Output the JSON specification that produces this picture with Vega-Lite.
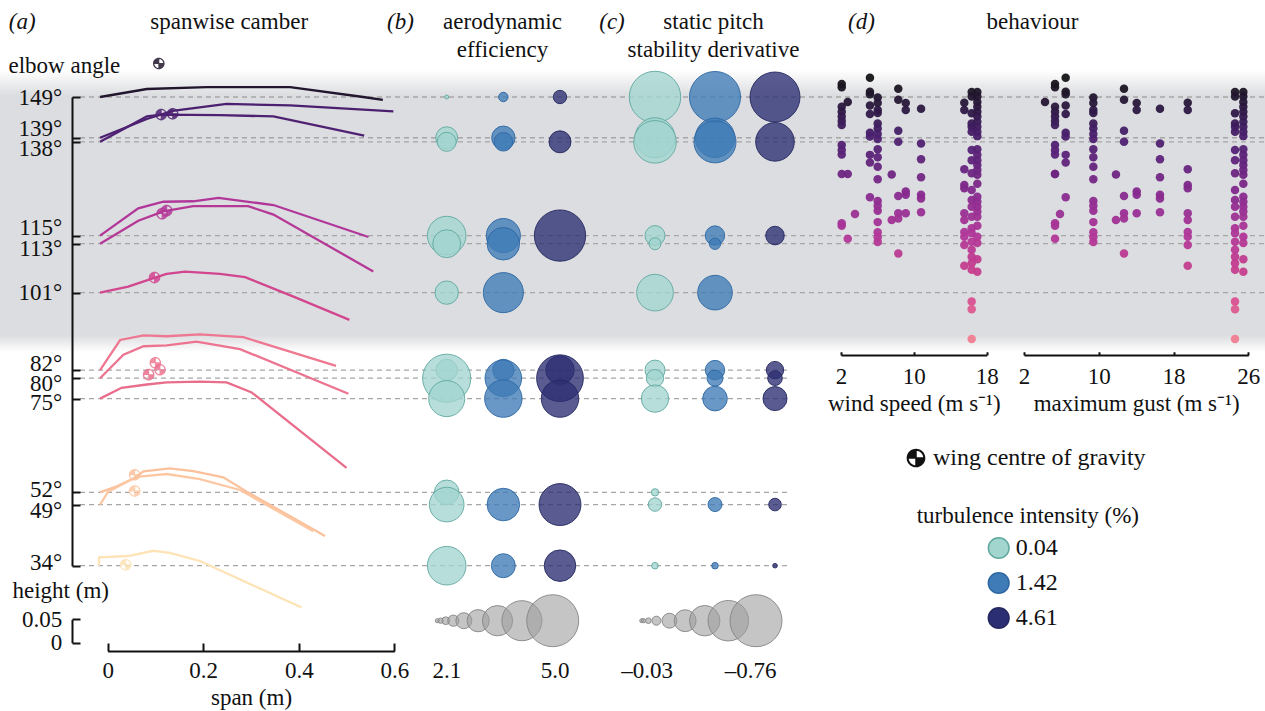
{
  "$schema": "https://vega.github.io/schema/vega-lite/v6.json",
  "width": 1265,
  "height": 711,
  "autosize": "none",
  "padding": 0,
  "background": "#ffffff",
  "config": {
    "view": {"stroke": null},
    "font": "Liberation Serif",
    "axis": {"labelFont": "Liberation Serif", "titleFont": "Liberation Serif", "labelFontSize": 23, "titleFontSize": 23, "titleFontWeight": "normal", "labelColor": "#111111", "titleColor": "#111111", "domainColor": "#111111", "tickColor": "#111111", "domainWidth": 2, "tickWidth": 2, "grid": false, "labelOverlap": false, "labelFlush": false, "labelBound": false, "labelLimit": 0, "titleLimit": 0, "zindex": 1},
    "legend": {"labelFont": "Liberation Serif", "titleFont": "Liberation Serif", "labelFontSize": 24, "titleFontSize": 23, "titleFontWeight": "normal", "labelColor": "#111111", "titleColor": "#111111", "padding": 0, "labelLimit": 0, "titleLimit": 0}
  },
  "datasets": {
    "angles": [{"angle": 149}, {"angle": 139}, {"angle": 138}, {"angle": 115}, {"angle": 113}, {"angle": 101}, {"angle": 82}, {"angle": 80}, {"angle": 75}, {"angle": 52}, {"angle": 49}, {"angle": 34}],
    "heightTicks": [{"height": 0}, {"height": 0.05}],
    "camber": [
      {"angle": 149, "span": -0.016, "height": 0}, {"angle": 149, "span": 0.082, "height": 0.017}, {"angle": 149, "span": 0.207, "height": 0.021}, {"angle": 149, "span": 0.382, "height": 0.021}, {"angle": 149, "span": 0.535, "height": 0.0}, {"angle": 149, "span": 0.576, "height": -0.006},
      {"angle": 139, "span": -0.016, "height": 0}, {"angle": 139, "span": 0.082, "height": 0.040}, {"angle": 139, "span": 0.136, "height": 0.057}, {"angle": 139, "span": 0.249, "height": 0.072}, {"angle": 139, "span": 0.382, "height": 0.069}, {"angle": 139, "span": 0.598, "height": 0.056},
      {"angle": 138, "span": -0.016, "height": 0}, {"angle": 138, "span": 0.082, "height": 0.054}, {"angle": 138, "span": 0.112, "height": 0.058}, {"angle": 138, "span": 0.235, "height": 0.057}, {"angle": 138, "span": 0.347, "height": 0.054}, {"angle": 138, "span": 0.537, "height": 0.013},
      {"angle": 115, "span": -0.016, "height": 0}, {"angle": 115, "span": 0.064, "height": 0.058}, {"angle": 115, "span": 0.1165, "height": 0.072}, {"angle": 115, "span": 0.179, "height": 0.073}, {"angle": 115, "span": 0.232, "height": 0.080}, {"angle": 115, "span": 0.347, "height": 0.065}, {"angle": 115, "span": 0.546, "height": -0.003},
      {"angle": 113, "span": -0.016, "height": 0}, {"angle": 113, "span": 0.064, "height": 0.049}, {"angle": 113, "span": 0.1165, "height": 0.069}, {"angle": 113, "span": 0.179, "height": 0.080}, {"angle": 113, "span": 0.294, "height": 0.080}, {"angle": 113, "span": 0.347, "height": 0.062}, {"angle": 113, "span": 0.556, "height": -0.059},
      {"angle": 101, "span": -0.016, "height": 0}, {"angle": 101, "span": 0.043, "height": 0.013}, {"angle": 101, "span": 0.099, "height": 0.032}, {"angle": 101, "span": 0.1235, "height": 0.040}, {"angle": 101, "span": 0.162, "height": 0.0445}, {"angle": 101, "span": 0.235, "height": 0.040}, {"angle": 101, "span": 0.2875, "height": 0.033}, {"angle": 101, "span": 0.389, "height": -0.0085}, {"angle": 101, "span": 0.506, "height": -0.058},
      {"angle": 82, "span": -0.016, "height": 0}, {"angle": 82, "span": 0.026, "height": 0.064}, {"angle": 82, "span": 0.075, "height": 0.074}, {"angle": 82, "span": 0.1235, "height": 0.072}, {"angle": 82, "span": 0.193, "height": 0.076}, {"angle": 82, "span": 0.284, "height": 0.070}, {"angle": 82, "span": 0.478, "height": 0.009},
      {"angle": 80, "span": -0.016, "height": 0}, {"angle": 80, "span": 0.033, "height": 0.050}, {"angle": 80, "span": 0.075, "height": 0.068}, {"angle": 80, "span": 0.1235, "height": 0.070}, {"angle": 80, "span": 0.186, "height": 0.078}, {"angle": 80, "span": 0.277, "height": 0.062}, {"angle": 80, "span": 0.504, "height": -0.033},
      {"angle": 75, "span": -0.016, "height": 0}, {"angle": 75, "span": 0.029, "height": 0.023}, {"angle": 75, "span": 0.082, "height": 0.030}, {"angle": 75, "span": 0.1235, "height": 0.0345}, {"angle": 75, "span": 0.193, "height": 0.036}, {"angle": 75, "span": 0.249, "height": 0.0345}, {"angle": 75, "span": 0.3015, "height": 0.013}, {"angle": 75, "span": 0.500, "height": -0.1475},
      {"angle": 52, "span": -0.016, "height": 0}, {"angle": 52, "span": 0.019, "height": 0.013}, {"angle": 52, "span": 0.057, "height": 0.031}, {"angle": 52, "span": 0.075, "height": 0.0445}, {"angle": 52, "span": 0.130, "height": 0.051}, {"angle": 52, "span": 0.179, "height": 0.045}, {"angle": 52, "span": 0.242, "height": 0.032}, {"angle": 52, "span": 0.291, "height": 0.0015}, {"angle": 52, "span": 0.455, "height": -0.093},
      {"angle": 49, "span": -0.016, "height": 0}, {"angle": 49, "span": 0.001, "height": 0.0275}, {"angle": 49, "span": 0.061, "height": 0.059}, {"angle": 49, "span": 0.1235, "height": 0.065}, {"angle": 49, "span": 0.193, "height": 0.054}, {"angle": 49, "span": 0.277, "height": 0.031}, {"angle": 49, "span": 0.4305, "height": -0.057},
      {"angle": 34, "span": -0.0185, "height": 0}, {"angle": 34, "span": -0.018, "height": 0.0178}, {"angle": 34, "span": 0.043, "height": 0.0206}, {"angle": 34, "span": 0.0955, "height": 0.0318}, {"angle": 34, "span": 0.130, "height": 0.0275}, {"angle": 34, "span": 0.193, "height": 0.010}, {"angle": 34, "span": 0.406, "height": -0.089}
    ],
    "cog": [
      {"angle": 149, "span": 0.107, "height": 0.0714}, {"angle": 139, "span": 0.136, "height": 0.051}, {"angle": 138, "span": 0.112, "height": 0.058},
      {"angle": 115, "span": 0.1235, "height": 0.053}, {"angle": 113, "span": 0.114, "height": 0.064}, {"angle": 101, "span": 0.098, "height": 0.032},
      {"angle": 82, "span": 0.0997, "height": 0.0157}, {"angle": 80, "span": 0.1095, "height": 0.018}, {"angle": 75, "span": 0.0858, "height": 0.051},
      {"angle": 52, "span": 0.0565, "height": 0.0375}, {"angle": 49, "span": 0.0565, "height": 0.029}, {"angle": 34, "span": 0.0377, "height": 0.002}
    ],
    "wing": [
      {"angle": 149, "turbulence": "0.04", "efficiency": 2.1, "stability": -0.756},
      {"angle": 149, "turbulence": "1.42", "efficiency": 3.02, "stability": -0.753},
      {"angle": 149, "turbulence": "4.61", "efficiency": 3.37, "stability": -0.745},
      {"angle": 139, "turbulence": "0.04", "efficiency": 3.90, "stability": -0.666},
      {"angle": 139, "turbulence": "1.42", "efficiency": 3.97, "stability": -0.661},
      {"angle": 138, "turbulence": "0.04", "efficiency": 3.74, "stability": -0.687},
      {"angle": 138, "turbulence": "1.42", "efficiency": 3.71, "stability": -0.683},
      {"angle": 138, "turbulence": "4.61", "efficiency": 3.90, "stability": -0.654},
      {"angle": 115, "turbulence": "0.04", "efficiency": 4.59, "stability": -0.467},
      {"angle": 115, "turbulence": "1.42", "efficiency": 4.43, "stability": -0.460},
      {"angle": 115, "turbulence": "4.61", "efficiency": 4.98, "stability": -0.450},
      {"angle": 113, "turbulence": "0.04", "efficiency": 4.18, "stability": -0.355},
      {"angle": 113, "turbulence": "1.42", "efficiency": 4.37, "stability": -0.345},
      {"angle": 101, "turbulence": "0.04", "efficiency": 3.97, "stability": -0.637},
      {"angle": 101, "turbulence": "1.42", "efficiency": 4.64, "stability": -0.619},
      {"angle": 82, "turbulence": "0.04", "efficiency": 3.87, "stability": -0.467},
      {"angle": 82, "turbulence": "1.42", "efficiency": 3.87, "stability": -0.460},
      {"angle": 82, "turbulence": "4.61", "efficiency": 4.21, "stability": -0.434},
      {"angle": 80, "turbulence": "0.04", "efficiency": 4.89, "stability": -0.434},
      {"angle": 80, "turbulence": "1.42", "efficiency": 4.52, "stability": -0.416},
      {"angle": 80, "turbulence": "4.61", "efficiency": 4.85, "stability": -0.396},
      {"angle": 75, "turbulence": "0.04", "efficiency": 4.50, "stability": -0.550},
      {"angle": 75, "turbulence": "1.42", "efficiency": 4.55, "stability": -0.520},
      {"angle": 75, "turbulence": "4.61", "efficiency": 4.55, "stability": -0.514},
      {"angle": 52, "turbulence": "0.04", "efficiency": 4.03, "stability": -0.263},
      {"angle": 49, "turbulence": "0.04", "efficiency": 4.45, "stability": -0.378},
      {"angle": 49, "turbulence": "1.42", "efficiency": 4.37, "stability": -0.387},
      {"angle": 49, "turbulence": "4.61", "efficiency": 4.70, "stability": -0.365},
      {"angle": 34, "turbulence": "0.04", "efficiency": 4.59, "stability": -0.242},
      {"angle": 34, "turbulence": "1.42", "efficiency": 4.00, "stability": -0.242},
      {"angle": 34, "turbulence": "4.61", "efficiency": 4.33, "stability": -0.159}
    ],
    "effKey": [
      {"row": "key", "efficiency": 2.1}, {"row": "key", "efficiency": 2.46}, {"row": "key", "efficiency": 2.83}, {"row": "key", "efficiency": 3.19}, {"row": "key", "efficiency": 3.55}, {"row": "key", "efficiency": 3.91}, {"row": "key", "efficiency": 4.28}, {"row": "key", "efficiency": 4.64}, {"row": "key", "efficiency": 5.0}
    ],
    "stabKey": [
      {"row": "key", "stability": -0.03}, {"row": "key", "stability": -0.12}, {"row": "key", "stability": -0.21}, {"row": "key", "stability": -0.30}, {"row": "key", "stability": -0.40}, {"row": "key", "stability": -0.49}, {"row": "key", "stability": -0.58}, {"row": "key", "stability": -0.67}, {"row": "key", "stability": -0.76}
    ],
    "behaviour": [
      {"speed": 2.08, "gust": 5.32, "angle": 152.2}, {"speed": 2.08, "gust": 5.32, "angle": 151.4}, {"speed": 2.08, "gust": 5.32, "angle": 146.6}, {"speed": 2.08, "gust": 5.32, "angle": 145.4}, {"speed": 2.08, "gust": 5.32, "angle": 144.2}, {"speed": 2.08, "gust": 5.32, "angle": 143.1}, {"speed": 2.08, "gust": 5.32, "angle": 142.1}, {"speed": 2.08, "gust": 5.32, "angle": 137.2}, {"speed": 2.08, "gust": 5.32, "angle": 136.0}, {"speed": 2.08, "gust": 5.32, "angle": 134.9}, {"speed": 2.08, "gust": 5.32, "angle": 130.1}, {"speed": 2.08, "gust": 5.32, "angle": 118.0}, {"speed": 2.08, "gust": 5.32, "angle": 117.4},
      {"speed": 2.74, "gust": 4.25, "angle": 147.8}, {"speed": 2.74, "gust": 5.32, "angle": 130.1}, {"speed": 2.74, "gust": 5.32, "angle": 114.2},
      {"speed": 3.54, "gust": 5.85, "angle": 120.3},
      {"speed": 5.18, "gust": 6.46, "angle": 153.7}, {"speed": 5.18, "gust": 6.46, "angle": 150.3}, {"speed": 5.18, "gust": 6.46, "angle": 149.7}, {"speed": 5.18, "gust": 6.46, "angle": 146.9}, {"speed": 5.18, "gust": 6.46, "angle": 144.8}, {"speed": 5.18, "gust": 6.46, "angle": 140.2}, {"speed": 5.18, "gust": 6.46, "angle": 139.3}, {"speed": 5.18, "gust": 6.46, "angle": 134.8}, {"speed": 5.18, "gust": 6.46, "angle": 132.9}, {"speed": 5.18, "gust": 6.46, "angle": 124.4},
      {"speed": 6.03, "gust": 9.42, "angle": 148.9}, {"speed": 6.03, "gust": 9.42, "angle": 147.5}, {"speed": 6.03, "gust": 9.42, "angle": 145.8}, {"speed": 6.03, "gust": 9.42, "angle": 145.1}, {"speed": 6.03, "gust": 9.42, "angle": 142.5}, {"speed": 6.03, "gust": 9.42, "angle": 141.3}, {"speed": 6.03, "gust": 9.42, "angle": 139.9}, {"speed": 6.03, "gust": 9.42, "angle": 138.7}, {"speed": 6.03, "gust": 9.42, "angle": 136.2}, {"speed": 6.03, "gust": 9.42, "angle": 134.2}, {"speed": 6.03, "gust": 9.42, "angle": 131.9}, {"speed": 6.03, "gust": 9.42, "angle": 128.8}, {"speed": 6.03, "gust": 9.42, "angle": 123.5}, {"speed": 6.03, "gust": 9.42, "angle": 122.3}, {"speed": 6.03, "gust": 9.42, "angle": 121.1}, {"speed": 6.03, "gust": 9.42, "angle": 118.3}, {"speed": 6.03, "gust": 9.42, "angle": 115.8}, {"speed": 6.03, "gust": 9.42, "angle": 114.6}, {"speed": 6.03, "gust": 9.42, "angle": 113.4},
      {"speed": 7.57, "gust": 11.84, "angle": 130.0}, {"speed": 7.57, "gust": 11.84, "angle": 118.8},
      {"speed": 8.29, "gust": 12.70, "angle": 151.0}, {"speed": 8.29, "gust": 12.70, "angle": 148.3}, {"speed": 8.29, "gust": 12.70, "angle": 140.7}, {"speed": 8.29, "gust": 12.70, "angle": 138.0}, {"speed": 8.29, "gust": 12.70, "angle": 124.7}, {"speed": 8.29, "gust": 12.70, "angle": 120.5}, {"speed": 8.29, "gust": 12.70, "angle": 119.2}, {"speed": 8.29, "gust": 12.70, "angle": 110.6},
      {"speed": 9.11, "gust": 14.06, "angle": 147.5}, {"speed": 9.11, "gust": 14.06, "angle": 145.8}, {"speed": 9.11, "gust": 14.06, "angle": 125.8}, {"speed": 9.11, "gust": 14.06, "angle": 125.0}, {"speed": 9.11, "gust": 14.06, "angle": 120.5},
      {"speed": 10.79, "gust": 16.55, "angle": 146.1}, {"speed": 10.79, "gust": 16.55, "angle": 137.6}, {"speed": 10.79, "gust": 16.55, "angle": 133.7}, {"speed": 10.79, "gust": 16.55, "angle": 129.3}, {"speed": 10.79, "gust": 16.55, "angle": 125.0}, {"speed": 10.79, "gust": 16.55, "angle": 124.1}, {"speed": 10.79, "gust": 16.55, "angle": 120.7},
      {"speed": 15.54, "gust": 19.52, "angle": 147.6}, {"speed": 15.54, "gust": 19.52, "angle": 145.8}, {"speed": 15.54, "gust": 19.52, "angle": 131.3}, {"speed": 15.54, "gust": 19.52, "angle": 127.4}, {"speed": 15.54, "gust": 19.52, "angle": 126.6}, {"speed": 15.54, "gust": 19.52, "angle": 120.5}, {"speed": 15.54, "gust": 19.52, "angle": 118.8}, {"speed": 15.54, "gust": 19.52, "angle": 115.9}, {"speed": 15.54, "gust": 19.52, "angle": 114.7}, {"speed": 15.54, "gust": 19.52, "angle": 112.7}, {"speed": 15.54, "gust": 19.52, "angle": 107.6},
      {"speed": 16.35, "gust": 24.58, "angle": 150.2}, {"speed": 16.35, "gust": 24.58, "angle": 149.1}, {"speed": 16.35, "gust": 24.58, "angle": 145.0}, {"speed": 16.35, "gust": 24.58, "angle": 142.5}, {"speed": 16.35, "gust": 24.58, "angle": 141.7}, {"speed": 16.35, "gust": 24.58, "angle": 140.5}, {"speed": 16.35, "gust": 24.58, "angle": 136.0}, {"speed": 16.35, "gust": 24.58, "angle": 133.5}, {"speed": 16.35, "gust": 24.58, "angle": 130.3}, {"speed": 16.35, "gust": 24.58, "angle": 126.2}, {"speed": 16.35, "gust": 24.58, "angle": 123.7}, {"speed": 16.35, "gust": 24.58, "angle": 122.1}, {"speed": 16.35, "gust": 24.58, "angle": 119.6}, {"speed": 16.35, "gust": 24.58, "angle": 116.8}, {"speed": 16.35, "gust": 24.58, "angle": 115.6}, {"speed": 16.35, "gust": 24.58, "angle": 113.5}, {"speed": 16.35, "gust": 24.58, "angle": 111.5}, {"speed": 16.35, "gust": 24.58, "angle": 109.8}, {"speed": 16.35, "gust": 24.58, "angle": 108.2}, {"speed": 16.35, "gust": 24.58, "angle": 106.6}, {"speed": 16.35, "gust": 24.58, "angle": 98.8}, {"speed": 16.35, "gust": 24.58, "angle": 96.9}, {"speed": 16.35, "gust": 24.58, "angle": 89.6},
      {"speed": 16.97, "gust": 25.47, "angle": 150.2}, {"speed": 16.97, "gust": 25.47, "angle": 149.1}, {"speed": 16.97, "gust": 25.47, "angle": 147.8}, {"speed": 16.97, "gust": 25.47, "angle": 146.6}, {"speed": 16.97, "gust": 25.47, "angle": 145.4}, {"speed": 16.97, "gust": 25.47, "angle": 144.2}, {"speed": 16.97, "gust": 25.47, "angle": 142.9}, {"speed": 16.97, "gust": 25.47, "angle": 141.7}, {"speed": 16.97, "gust": 25.47, "angle": 140.5}, {"speed": 16.97, "gust": 25.47, "angle": 139.4}, {"speed": 16.97, "gust": 25.47, "angle": 136.2}, {"speed": 16.97, "gust": 25.47, "angle": 134.8}, {"speed": 16.97, "gust": 25.47, "angle": 133.5}, {"speed": 16.97, "gust": 25.47, "angle": 132.3}, {"speed": 16.97, "gust": 25.47, "angle": 131.1}, {"speed": 16.97, "gust": 25.47, "angle": 129.9}, {"speed": 16.97, "gust": 25.47, "angle": 127.7}, {"speed": 16.97, "gust": 25.47, "angle": 124.5}, {"speed": 16.97, "gust": 25.47, "angle": 123.3}, {"speed": 16.97, "gust": 25.47, "angle": 122.1}, {"speed": 16.97, "gust": 25.47, "angle": 120.9}, {"speed": 16.97, "gust": 25.47, "angle": 119.6}, {"speed": 16.97, "gust": 25.47, "angle": 117.4}, {"speed": 16.97, "gust": 25.47, "angle": 114.7}, {"speed": 16.97, "gust": 25.47, "angle": 113.2}, {"speed": 16.97, "gust": 25.47, "angle": 109.2}, {"speed": 16.97, "gust": 25.47, "angle": 106.1}
    ]
  },
  "resolve": {
    "scale": {"x": "independent", "y": "independent", "size": "independent", "shape": "independent"},
    "axis": {"x": "independent", "y": "independent"}
  },
  "layer": [
    {
      "data": {"values": [{}]},
      "mark": {"type": "rect", "fill": {"gradient": "linear", "x1": 0, "y1": 0, "x2": 0, "y2": 1, "stops": [{"offset": 0, "color": "#ffffff"}, {"offset": 0.09, "color": "#dcdde0"}, {"offset": 0.94, "color": "#dcdde0"}, {"offset": 1, "color": "#ffffff"}]}},
      "encoding": {
        "y": {"datum": 155.6, "type": "quantitative", "scale": {"domain": [34, 149], "range": [565.7, 97], "zero": false, "nice": false}, "axis": null},
        "y2": {"datum": 86.4}
      }
    },
    {
      "data": {"name": "angles"},
      "transform": [{"filter": "datum.angle >= 100"}],
      "mark": {"type": "rule", "color": "#a6a6a6", "strokeDash": [5, 4], "strokeWidth": 1.3},
      "encoding": {
        "x": {"datum": -0.058, "type": "quantitative", "scale": {"domain": [0, 0.6], "range": [107.7, 394.3], "zero": false, "nice": false}, "axis": null},
        "x2": {"value": "width"},
        "y": {"field": "angle", "type": "quantitative", "scale": {"domain": [34, 149], "range": [565.7, 97], "zero": false, "nice": false},
          "axis": {"orient": "left", "offset": -72, "zindex": 2, "values": [149, 139, 138, 115, 113, 101, 82, 80, 75, 52, 49, 34], "tickSize": -8, "labelPadding": 18.3, "labelExpr": "datum.value + '°'", "labelBaseline": "middle",
            "labelOffset": {"condition": [{"test": "datum.value == 139", "value": -9}, {"test": "datum.value == 138", "value": 7}, {"test": "datum.value == 115", "value": -8}, {"test": "datum.value == 113", "value": 5}, {"test": "datum.value == 82", "value": -7}, {"test": "datum.value == 80", "value": 5}, {"test": "datum.value == 75", "value": 4}, {"test": "datum.value == 52", "value": -3}, {"test": "datum.value == 49", "value": 6}, {"test": "datum.value == 34", "value": -3}], "value": 0},
            "title": "elbow angle", "titleAngle": 0, "titleAlign": "left", "titleBaseline": "alphabetic", "titleX": -64, "titleY": 72}}
      }
    },
    {
      "data": {"name": "angles"},
      "transform": [{"filter": "datum.angle < 100"}],
      "mark": {"type": "rule", "color": "#a6a6a6", "strokeDash": [5, 4], "strokeWidth": 1.3},
      "encoding": {
        "x": {"datum": -0.058, "type": "quantitative", "scale": {"domain": [0, 0.6], "range": [107.7, 394.3], "zero": false, "nice": false}, "axis": null},
        "x2": {"datum": 1.43},
        "y": {"field": "angle", "type": "quantitative", "scale": {"domain": [34, 149], "range": [565.7, 97], "zero": false, "nice": false}, "axis": null}
      }
    },
    {
      "data": {"name": "heightTicks"},
      "mark": {"type": "point", "opacity": 0},
      "encoding": {
        "y": {"field": "height", "type": "quantitative", "scale": {"domain": [0, 0.05], "range": [642.7, 619.3], "zero": false, "nice": false},
          "axis": {"orient": "left", "offset": -72, "zindex": 2, "values": [0, 0.05], "tickSize": -8, "labelPadding": 18.3, "labelExpr": "datum.value == 0 ? '0' : '0.05'", "labelBaseline": "middle",
            "title": "height (m)", "titleAngle": 0, "titleAlign": "left", "titleBaseline": "alphabetic", "titleX": -60, "titleY": 597}}
      }
    },
    {
      "data": {"name": "camber"},
      "transform": [{"calculate": "datum.angle + datum.height * 115.3", "as": "level"}],
      "mark": {"type": "line", "strokeWidth": 2.3},
      "encoding": {
        "x": {"field": "span", "type": "quantitative", "scale": {"domain": [0, 0.6], "range": [107.7, 394.3], "zero": false, "nice": false},
          "axis": {"orient": "bottom", "offset": -60, "values": [0, 0.2, 0.4, 0.6], "tickSize": -8, "labelPadding": 16, "labelExpr": "datum.value == 0 ? '0' : format(datum.value, '.1f')", "title": "span (m)", "titlePadding": 4}},
        "y": {"field": "level", "type": "quantitative", "scale": {"domain": [34, 149], "range": [565.7, 97], "zero": false, "nice": false}, "axis": null},
        "detail": {"field": "angle", "type": "nominal"},
        "color": {"field": "angle", "type": "quantitative", "legend": null,
          "scale": {"domain": [34, 49, 52, 75, 80, 82, 90, 101, 108, 115, 125, 132, 139, 145, 150, 154], "range": ["#fde3b5", "#fcc8a3", "#fbc19c", "#e96e8c", "#ec7490", "#ee7891", "#f07e92", "#d2458f", "#c23c8e", "#b03799", "#87298e", "#65247d", "#4b2070", "#2f1848", "#1e1628", "#141414"], "interpolate": "rgb"}}
      }
    },
    {
      "data": {"name": "cog"},
      "transform": [{"calculate": "datum.angle + datum.height * 115.3", "as": "level"}],
      "mark": {"type": "point", "filled": true, "size": 135, "opacity": 0.85},
      "encoding": {
        "x": {"field": "span", "type": "quantitative", "scale": {"domain": [0, 0.6], "range": [107.7, 394.3], "zero": false, "nice": false},
          "axis": {"orient": "top", "offset": -28, "domain": false, "ticks": false, "values": [0], "labelExpr": "'(a)'", "labelOffset": -86, "labelPadding": 0, "labelBaseline": "alphabetic", "labelFontStyle": "italic",
            "title": "spanwise camber", "titleX": 228.7, "titleY": 0, "titleAlign": "center", "titleBaseline": "alphabetic", "titleAngle": 0}},
        "y": {"field": "level", "type": "quantitative", "scale": {"domain": [34, 149], "range": [565.7, 97], "zero": false, "nice": false}, "axis": null},
        "shape": {"datum": "wing centre of gravity", "type": "nominal",
          "scale": {"range": ["M1,0A1,1,0,1,1,-1,0A1,1,0,1,1,1,0Z M0.78,0A0.78,0.78,0,1,0,-0.78,0A0.78,0.78,0,1,0,0.78,0Z M0,0L-0.78,0A0.78,0.78,0,0,1,0,-0.78Z M0,0L0.78,0A0.78,0.78,0,0,1,0,0.78Z M-0.78,-0.08L0.78,-0.08L0.78,0.08L-0.78,0.08Z M-0.08,-0.78L0.08,-0.78L0.08,0.78L-0.08,0.78Z"]},
          "legend": {"title": null, "orient": "none", "legendX": 904, "legendY": 446, "direction": "vertical", "symbolSize": 350, "symbolFillColor": "#111111", "symbolStrokeColor": "#111111", "symbolStrokeWidth": 0, "symbolOpacity": 1, "labelOffset": 5, "labelFontSize": 24}},
        "color": {"field": "angle", "type": "quantitative", "legend": null,
          "scale": {"domain": [34, 49, 52, 75, 80, 82, 90, 101, 108, 115, 125, 132, 139, 145, 150, 154], "range": ["#fde3b5", "#fcc8a3", "#fbc19c", "#e96e8c", "#ec7490", "#ee7891", "#f07e92", "#d2458f", "#c23c8e", "#b03799", "#87298e", "#65247d", "#4b2070", "#2f1848", "#1e1628", "#141414"], "interpolate": "rgb"}}
      }
    },
    {
      "data": {"name": "wing"},
      "transform": [{"filter": "isValid(datum.efficiency)"}],
      "mark": {"type": "point", "shape": "circle", "filled": true, "fillOpacity": 0.78, "strokeWidth": 1, "strokeOpacity": 0.9},
      "encoding": {
        "x": {"field": "turbulence", "type": "nominal", "scale": {"domain": ["0.04", "1.42", "4.61"], "range": [446.7, 560], "padding": 0},
          "axis": {"orient": "top", "offset": -28, "domain": false, "ticks": false, "values": ["0.04"], "labelExpr": "'(b)'", "labelOffset": -46.7, "labelPadding": 0, "labelBaseline": "alphabetic", "labelFontStyle": "italic", "labelAngle": 0,
            "title": ["aerodynamic", "efficiency"], "titleX": 502, "titleY": 0, "titleAlign": "center", "titleBaseline": "alphabetic", "titleLineHeight": 28, "titleAngle": 0}},
        "y": {"field": "angle", "type": "quantitative", "scale": {"domain": [34, 149], "range": [565.7, 97], "zero": false, "nice": false}, "axis": null},
        "size": {"field": "efficiency", "type": "quantitative", "scale": {"type": "pow", "exponent": 7, "domain": [2.1, 5.0], "range": [16, 2704], "zero": false, "nice": false}, "legend": null},
        "fill": {"field": "turbulence", "type": "nominal", "title": "turbulence intensity (%)", "scale": {"domain": ["0.04", "1.42", "4.61"], "range": ["#a3d5cf", "#3f7bb6", "#2b2e72"]},
          "legend": {"orient": "none", "legendX": 916.7, "legendY": 505, "direction": "vertical", "symbolType": "circle", "symbolSize": 430, "symbolStrokeWidth": 1.5, "symbolOpacity": 1, "symbolOffset": 70, "rowPadding": 7, "titlePadding": 8, "labelOffset": 5}},
        "stroke": {"field": "turbulence", "type": "nominal", "title": "turbulence intensity (%)", "scale": {"domain": ["0.04", "1.42", "4.61"], "range": ["#5fa9a0", "#2e67a3", "#25285f"]},
          "legend": {"orient": "none", "legendX": 916.7, "legendY": 505, "direction": "vertical", "symbolType": "circle", "symbolSize": 430, "symbolStrokeWidth": 1.5, "symbolOpacity": 1, "symbolOffset": 70, "rowPadding": 7, "titlePadding": 8, "labelOffset": 5}}
      }
    },
    {
      "data": {"name": "effKey"},
      "mark": {"type": "point", "shape": "circle", "filled": true, "fill": "#9e9e9e", "fillOpacity": 0.6, "stroke": "#858585", "strokeWidth": 1, "strokeOpacity": 0.9},
      "encoding": {
        "x": {"field": "efficiency", "type": "quantitative", "scale": {"type": "pow", "exponent": 4, "domain": [2.1, 5.0], "range": [437.3, 552.7], "zero": false, "nice": false},
          "axis": {"orient": "bottom", "offset": -60, "domain": false, "ticks": false, "values": [2.1, 5.0], "labelPadding": 8, "labelExpr": "format(datum.value, '.1f')", "labelOffset": {"condition": {"test": "datum.value < 3", "value": 9}, "value": 2}, "title": null}},
        "y": {"field": "row", "type": "nominal", "scale": {"domain": ["key"], "range": [620.7, 620.7]}, "axis": null},
        "size": {"field": "efficiency", "type": "quantitative", "scale": {"type": "pow", "exponent": 7, "domain": [2.1, 5.0], "range": [16, 2704], "zero": false, "nice": false}, "legend": null}
      }
    },
    {
      "data": {"name": "wing"},
      "transform": [{"filter": "isValid(datum.stability)"}],
      "mark": {"type": "point", "shape": "circle", "filled": true, "fillOpacity": 0.78, "strokeWidth": 1, "strokeOpacity": 0.9},
      "encoding": {
        "x": {"field": "turbulence", "type": "nominal", "scale": {"domain": ["0.04", "1.42", "4.61"], "range": [655, 775], "padding": 0},
          "axis": {"orient": "top", "offset": -28, "domain": false, "ticks": false, "values": ["0.04"], "labelExpr": "'(c)'", "labelOffset": -43.5, "labelPadding": 0, "labelBaseline": "alphabetic", "labelFontStyle": "italic", "labelAngle": 0,
            "title": ["static pitch", "stability derivative"], "titleX": 713, "titleY": 0, "titleAlign": "center", "titleBaseline": "alphabetic", "titleLineHeight": 28, "titleAngle": 0}},
        "y": {"field": "angle", "type": "quantitative", "scale": {"domain": [34, 149], "range": [565.7, 97], "zero": false, "nice": false}, "axis": null},
        "size": {"field": "stability", "type": "quantitative", "scale": {"type": "pow", "exponent": 4, "domain": [-0.03, -0.76], "range": [16, 2704], "zero": false, "nice": false}, "legend": null},
        "fill": {"field": "turbulence", "type": "nominal", "title": "turbulence intensity (%)", "scale": {"domain": ["0.04", "1.42", "4.61"], "range": ["#a3d5cf", "#3f7bb6", "#2b2e72"]},
          "legend": {"orient": "none", "legendX": 916.7, "legendY": 505, "direction": "vertical", "symbolType": "circle", "symbolSize": 430, "symbolStrokeWidth": 1.5, "symbolOpacity": 1, "symbolOffset": 70, "rowPadding": 7, "titlePadding": 8, "labelOffset": 5}},
        "stroke": {"field": "turbulence", "type": "nominal", "title": "turbulence intensity (%)", "scale": {"domain": ["0.04", "1.42", "4.61"], "range": ["#5fa9a0", "#2e67a3", "#25285f"]},
          "legend": {"orient": "none", "legendX": 916.7, "legendY": 505, "direction": "vertical", "symbolType": "circle", "symbolSize": 430, "symbolStrokeWidth": 1.5, "symbolOpacity": 1, "symbolOffset": 70, "rowPadding": 7, "titlePadding": 8, "labelOffset": 5}}
      }
    },
    {
      "data": {"name": "stabKey"},
      "mark": {"type": "point", "shape": "circle", "filled": true, "fill": "#9e9e9e", "fillOpacity": 0.6, "stroke": "#858585", "strokeWidth": 1, "strokeOpacity": 0.9},
      "encoding": {
        "x": {"field": "stability", "type": "quantitative", "scale": {"type": "pow", "exponent": 2.2, "domain": [-0.03, -0.76], "range": [641.7, 756], "zero": false, "nice": false},
          "axis": {"orient": "bottom", "offset": -60, "domain": false, "ticks": false, "values": [-0.03, -0.76], "labelPadding": 8, "labelExpr": "'–' + format(-datum.value, '.2f')", "labelOffset": {"condition": {"test": "datum.value > -0.1", "value": 5}, "value": -6}, "title": null}},
        "y": {"field": "row", "type": "nominal", "scale": {"domain": ["key"], "range": [620.7, 620.7]}, "axis": null},
        "size": {"field": "stability", "type": "quantitative", "scale": {"type": "pow", "exponent": 4, "domain": [-0.03, -0.76], "range": [16, 2704], "zero": false, "nice": false}, "legend": null}
      }
    },
    {
      "data": {"name": "behaviour"},
      "mark": {"type": "point", "opacity": 0},
      "encoding": {
        "x": {"field": "speed", "type": "quantitative", "scale": {"domain": [2, 18], "range": [841, 986.7], "zero": false, "nice": false},
          "axis": {"orient": "top", "offset": -28, "domain": false, "ticks": false, "values": [2], "labelExpr": "'(d)'", "labelOffset": 20, "labelPadding": 0, "labelBaseline": "alphabetic", "labelFontStyle": "italic",
            "title": "behaviour", "titleX": 1032, "titleY": 0, "titleAlign": "center", "titleBaseline": "alphabetic", "titleAngle": 0}},
        "y": {"field": "angle", "type": "quantitative", "scale": {"domain": [34, 149], "range": [565.7, 97], "zero": false, "nice": false}, "axis": null}
      }
    },
    {
      "data": {"name": "behaviour"},
      "mark": {"type": "circle", "size": 72, "opacity": 0.95},
      "encoding": {
        "x": {"field": "speed", "type": "quantitative", "scale": {"domain": [2, 18], "range": [841, 986.7], "zero": false, "nice": false},
          "axis": {"orient": "bottom", "offset": -356, "values": [2, 10, 18], "tickSize": -8, "labelPadding": 18, "title": "wind speed (m s⁻¹)", "titlePadding": 4}},
        "y": {"field": "angle", "type": "quantitative", "scale": {"domain": [34, 149], "range": [565.7, 97], "zero": false, "nice": false}, "axis": null},
        "color": {"field": "angle", "type": "quantitative", "legend": null,
          "scale": {"domain": [34, 49, 52, 75, 80, 82, 90, 101, 108, 115, 125, 132, 139, 145, 150, 154], "range": ["#fde3b5", "#fcc8a3", "#fbc19c", "#e96e8c", "#ec7490", "#ee7891", "#f07e92", "#d2458f", "#c23c8e", "#b03799", "#87298e", "#65247d", "#4b2070", "#2f1848", "#1e1628", "#141414"], "interpolate": "rgb"}}
      }
    },
    {
      "data": {"name": "behaviour"},
      "mark": {"type": "circle", "size": 72, "opacity": 0.95},
      "encoding": {
        "x": {"field": "gust", "type": "quantitative", "scale": {"domain": [2, 26], "range": [1024, 1248.3], "zero": false, "nice": false},
          "axis": {"orient": "bottom", "offset": -356, "values": [2, 10, 18, 26], "tickSize": -8, "labelPadding": 18, "title": "maximum gust (m s⁻¹)", "titlePadding": 4}},
        "y": {"field": "angle", "type": "quantitative", "scale": {"domain": [34, 149], "range": [565.7, 97], "zero": false, "nice": false}, "axis": null},
        "color": {"field": "angle", "type": "quantitative", "legend": null,
          "scale": {"domain": [34, 49, 52, 75, 80, 82, 90, 101, 108, 115, 125, 132, 139, 145, 150, 154], "range": ["#fde3b5", "#fcc8a3", "#fbc19c", "#e96e8c", "#ec7490", "#ee7891", "#f07e92", "#d2458f", "#c23c8e", "#b03799", "#87298e", "#65247d", "#4b2070", "#2f1848", "#1e1628", "#141414"], "interpolate": "rgb"}}
      }
    }
  ]
}
